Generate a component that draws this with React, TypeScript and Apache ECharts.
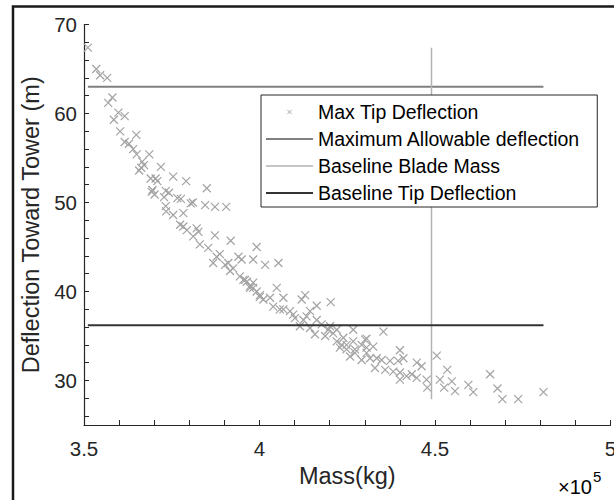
import React, { useEffect, useRef } from "react";
import * as echarts from "echarts";

// Scatter: blade mass (kg) vs max tip deflection (m)
const massKg = [
  351100, 353500, 354600, 356600, 358100, 356900, 359800, 361600, 358500, 360300,
  361600, 364900, 362800, 364000, 365000, 368600, 366600, 367100, 365700, 366300,
  371900, 369000, 370400, 370900, 375400, 379100, 369500, 370100, 373300, 374200,
  372800, 376600, 377600, 373300, 380400, 385000, 369300, 381000, 384500, 387300,
  390500, 373400, 375400, 378300, 377400, 379300, 382100, 381100, 387300, 391800,
  399200, 383000, 385400, 388700, 394000, 398200, 401600, 386800, 390200, 391600,
  394400, 396400, 397300, 399200, 400100, 394900, 405400, 395900, 398200, 404900,
  400100, 403000, 406800, 413000, 412000, 420300, 416300, 405800, 408700, 414400,
  410100, 412500, 411500, 414400, 417700, 420100, 422000, 426700, 415800, 418700,
  422000, 424800, 427200, 430100, 430500, 422900, 435300, 423900, 426700, 430500,
  429100, 432400, 424800, 427200, 430500, 425800, 429100, 433400, 434800, 440000,
  437200, 439500, 441000, 432900, 435800, 438100, 440000, 444800, 446200, 443400,
  440000, 444800, 447600, 447800, 450500, 453500, 451400, 454800, 452600, 455700,
  459500, 460900, 465700, 467800, 469200, 473700, 480900,
  378300, 382600, 387800, 391100, 392500, 395400, 398200, 397300, 401100, 403900,
  406800, 409600, 413400, 416300, 419600, 421000, 423400, 431500, 441900,
];
const tipDeflection = [
  67.4, 65.0, 64.3, 64.0, 61.8, 61.2, 60.1, 59.7, 59.3, 58.0,
  56.8, 57.6, 56.6, 56.0, 55.4, 55.4, 54.6, 54.2, 53.6, 53.9,
  54.0, 52.7, 52.7, 52.4, 52.9, 52.4, 51.4, 50.9, 51.3, 51.1,
  50.6, 50.5, 50.4, 49.6, 49.9, 51.6, 51.2, 50.0, 49.7, 49.5,
  49.5, 49.0, 48.6, 48.8, 47.5, 46.9, 47.1, 46.2, 46.3, 45.7,
  45.0, 45.3, 44.9, 44.2, 43.9, 43.6, 43.0, 43.2, 43.0, 42.3,
  41.7, 41.1, 40.6, 40.0, 39.4, 43.6, 43.2, 41.3, 41.0, 40.4,
  39.6, 39.3, 39.3, 39.6, 39.1, 38.8, 38.4, 38.0, 37.8, 37.8,
  37.0, 36.8, 36.1, 35.9, 36.3, 36.1, 35.7, 35.7, 35.2, 35.0,
  34.4, 34.0, 33.5, 34.6, 33.7, 33.7, 35.5, 34.8, 34.4, 34.7,
  34.0, 33.8, 33.5, 33.1, 33.1, 32.7, 32.3, 32.5, 32.3, 33.4,
  32.2, 32.2, 32.5, 31.4, 31.2, 31.0, 30.9, 32.0, 31.6, 30.7,
  30.1, 30.3, 30.1, 29.2, 32.8, 31.2, 30.1, 29.9, 29.2, 28.8,
  29.5, 28.7, 30.7, 29.1, 27.9, 27.9, 28.7,
  47.3, 46.7, 43.9, 43.2, 42.6, 41.3, 40.4, 40.4, 39.1, 38.3,
  38.0, 37.4, 37.2, 36.8, 35.7, 35.3, 34.0, 32.5, 30.5,
];

// Reference lines
const maxAllowableDeflection = 63.0;
const baselineTipDeflection = 36.2;
const baselineBladeMass = 449000;
const massSpan = [351100, 480900];
const deflectionSpan = [27.9, 67.4];

// Axes
const xMin = 350000;
const xMax = 500000;
const yMin = 25;
const yMax = 70;
const xTickValues = [
  350000, 360000, 370000, 380000, 390000, 400000, 410000, 420000,
  430000, 440000, 450000, 460000, 470000, 480000, 490000, 500000,
];
const xLabelValues = [350000, 400000, 450000, 500000];
const yTickValues = [
  26, 28, 30, 32, 34, 36, 38, 40, 42, 44, 46, 48, 50, 52, 54, 56, 58, 60, 62, 64, 66, 68, 70,
];
const yLabelValues = [30, 40, 50, 60, 70];
const exponentBase = "×10";
const exponentPower = "5";

const seriesNames = [
  "Max Tip Deflection",
  "Maximum Allowable deflection",
  "Baseline Blade Mass",
  "Baseline Tip Deflection",
];

const FONT = "Liberation Sans";
const AXIS_COLOR = "#262626";
const SCATTER_COLOR = "#a3a3a3";
const MAX_COLOR = "#808080";
const MASS_COLOR = "#b3b3b3";
const TIP_COLOR = "#333333";

const lineIcon = (w: number) =>
  `path://M0,0M47,14M0,${7 - w / 2}L47,${7 - w / 2}L47,${7 + w / 2}L0,${7 + w / 2}Z`;

export default function App() {
  const ref = useRef<HTMLDivElement>(null);

  useEffect(() => {
    if (!ref.current) return;
    const chart = echarts.init(ref.current, null, { renderer: "svg" });
    const points = massKg.map((m, i) => [m, tipDeflection[i]]);

    chart.setOption({
      animation: false,
      backgroundColor: "#ffffff",
      grid: {
        left: 84,
        top: 24.5,
        right: 3.5,
        bottom: 75,
        containLabel: false,
        outerBoundsMode: "none",
      },
      xAxis: {
        type: "value",
        min: xMin,
        max: xMax,
        name: "Mass(kg)",
        nameLocation: "middle",
        nameGap: 32,
        nameTextStyle: { fontFamily: FONT, fontSize: 23.5, color: AXIS_COLOR },
        splitLine: { show: false },
        axisLine: { show: true, lineStyle: { color: AXIS_COLOR, width: 1.2 } },
        axisTick: {
          show: true,
          inside: true,
          length: 5,
          customValues: xTickValues,
          lineStyle: { color: AXIS_COLOR, width: 1 },
        },
        axisLabel: {
          customValues: xLabelValues,
          fontFamily: FONT,
          fontSize: 20.5,
          color: AXIS_COLOR,
          margin: 13,
          formatter: (v: number) => String(v / 1e5),
        },
      },
      yAxis: {
        type: "value",
        min: yMin,
        max: yMax,
        name: "Deflection Toward Tower (m)",
        nameLocation: "middle",
        nameGap: 38,
        nameTextStyle: { fontFamily: FONT, fontSize: 23.5, color: AXIS_COLOR },
        splitLine: { show: false },
        axisLine: { show: true, lineStyle: { color: AXIS_COLOR, width: 1.2 } },
        axisTick: {
          show: true,
          inside: true,
          length: 5,
          customValues: yTickValues,
          lineStyle: { color: AXIS_COLOR, width: 1 },
        },
        axisLabel: {
          customValues: yLabelValues,
          fontFamily: FONT,
          fontSize: 20.5,
          color: AXIS_COLOR,
          margin: 7,
        },
      },
      legend: {
        orient: "vertical",
        left: 261,
        top: 95,
        padding: [7, 17, 4, 5],
        itemWidth: 47,
        itemHeight: 14,
        itemGap: 7,
        backgroundColor: "#ffffff",
        borderColor: AXIS_COLOR,
        borderWidth: 1,
        borderRadius: 0,
        textStyle: { fontFamily: FONT, fontSize: 19.5, color: "#000000" },
        data: [
          {
            name: seriesNames[0],
            icon: "path://M0,0M20,20M7,7L13,13M13,7L7,13",
            itemStyle: { color: "none", borderColor: SCATTER_COLOR, borderWidth: 1 },
          },
          {
            name: seriesNames[1],
            icon: lineIcon(2),
            itemStyle: { color: MAX_COLOR, borderWidth: 0 },
          },
          {
            name: seriesNames[2],
            icon: lineIcon(1.5),
            itemStyle: { color: MASS_COLOR, borderWidth: 0 },
          },
          {
            name: seriesNames[3],
            icon: lineIcon(2),
            itemStyle: { color: TIP_COLOR, borderWidth: 0 },
          },
        ],
      },
      series: [
        {
          name: seriesNames[0],
          type: "scatter",
          data: points,
          symbol: "path://M0,0L10,10M10,0L0,10",
          symbolSize: 8,
          itemStyle: { color: "none", borderColor: SCATTER_COLOR, borderWidth: 1.2, opacity: 1 },
          z: 2,
        },
        {
          name: seriesNames[1],
          type: "line",
          symbol: "none",
          data: [
            [massSpan[0], maxAllowableDeflection],
            [massSpan[1], maxAllowableDeflection],
          ],
          lineStyle: { color: MAX_COLOR, width: 2 },
          itemStyle: { color: MAX_COLOR },
          z: 3,
        },
        {
          name: seriesNames[2],
          type: "line",
          symbol: "none",
          data: [
            [baselineBladeMass, deflectionSpan[0]],
            [baselineBladeMass, deflectionSpan[1]],
          ],
          lineStyle: { color: MASS_COLOR, width: 1.5 },
          itemStyle: { color: MASS_COLOR },
          z: 3,
        },
        {
          name: seriesNames[3],
          type: "line",
          symbol: "none",
          data: [
            [massSpan[0], baselineTipDeflection],
            [massSpan[1], baselineTipDeflection],
          ],
          lineStyle: { color: TIP_COLOR, width: 2 },
          itemStyle: { color: TIP_COLOR },
          z: 3,
        },
      ],
      graphic: [
        {
          type: "rect",
          shape: { x: 13, y: 6.5, width: 700, height: 600 },
          style: { fill: "none", stroke: "#1a1a1a", lineWidth: 2.5 },
          z: 100,
          silent: true,
        },
        {
          type: "text",
          left: 558,
          top: 469,
          style: {
            text: `{a|${exponentBase}}{b|${exponentPower}}`,
            rich: {
              a: {
                fontFamily: FONT,
                fontSize: 20,
                color: AXIS_COLOR,
                lineHeight: 28,
                verticalAlign: "bottom",
              },
              b: {
                fontFamily: FONT,
                fontSize: 15,
                color: AXIS_COLOR,
                lineHeight: 28,
                verticalAlign: "top",
                padding: [0, 0, 0, 1],
              },
            },
          },
          silent: true,
        },
      ],
    });

    return () => chart.dispose();
  }, []);

  return (
    <div
      ref={ref}
      style={{ position: "fixed", left: 0, top: 0, width: 614, height: 500 }}
    />
  );
}
